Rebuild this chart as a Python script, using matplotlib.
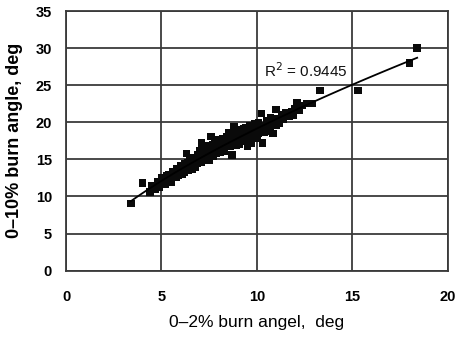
import numpy as np
import matplotlib
matplotlib.use("Agg")
import matplotlib.pyplot as plt

x_vals = [3.4, 4.0, 4.4, 4.5, 4.7, 4.8, 4.9, 5.0, 5.0, 5.1, 5.2, 5.2, 5.3, 5.4, 5.4,
          5.5, 5.5, 5.6, 5.6, 5.7, 5.8, 5.8, 5.9, 5.9, 6.0, 6.0, 6.1, 6.1, 6.2, 6.2,
          6.3, 6.3, 6.4, 6.4, 6.5, 6.5, 6.6, 6.6, 6.7, 6.7, 6.8, 6.8, 6.9, 6.9, 7.0,
          7.0, 7.1, 7.1, 7.2, 7.2, 7.3, 7.3, 7.4, 7.4, 7.5, 7.5, 7.6, 7.6, 7.7, 7.7,
          7.8, 7.8, 7.9, 7.9, 8.0, 8.0, 8.1, 8.1, 8.2, 8.2, 8.3, 8.3, 8.4, 8.4, 8.5,
          8.5, 8.6, 8.6, 8.7, 8.7, 8.8, 8.8, 8.9, 8.9, 9.0, 9.0, 9.1, 9.1, 9.2, 9.2,
          9.3, 9.3, 9.4, 9.4, 9.5, 9.5, 9.6, 9.6, 9.7, 9.7, 9.8, 9.8, 9.9, 9.9, 10.0,
          10.0, 10.1, 10.1, 10.2, 10.25, 10.3, 10.3, 10.4, 10.5, 10.5, 10.6, 10.7, 10.7,
          10.8, 10.85, 10.9, 11.0, 11.0, 11.1, 11.2, 11.3, 11.4, 11.5, 11.6, 11.7, 11.8,
          11.9, 12.0, 12.1, 12.2, 12.4, 12.6, 12.7, 12.9, 13.3, 15.3, 18.0, 18.4,
          5.3, 5.7, 6.1, 6.5, 6.9, 7.3, 7.7, 8.1, 8.5, 8.9, 9.3, 9.7, 10.1]
y_vals = [9.1, 11.8, 10.6, 11.4, 11.0, 12.0, 11.3, 11.8, 12.5, 11.9, 12.3, 11.6, 12.8, 12.1, 13.0,
          12.5, 11.9, 12.7, 13.4, 13.0, 12.6, 13.8, 13.2, 12.8, 13.5, 14.2, 13.0, 13.8, 14.4, 13.3,
          15.8, 13.9, 14.6, 13.5, 14.1, 15.0, 14.6, 13.7, 15.3, 14.2, 14.8, 13.9, 15.5, 14.5, 15.0,
          16.2, 17.2, 14.6, 15.6, 16.5, 15.2, 16.0, 16.8, 15.5, 16.3, 14.9, 18.1, 16.0, 16.7, 15.4,
          17.3, 16.2, 15.8, 17.0, 16.5, 17.6, 16.0, 17.0, 17.8, 16.6, 17.2, 16.1, 18.0, 16.9, 17.5,
          18.6, 16.7, 17.9, 15.6, 18.3, 19.4, 17.4, 18.0, 16.9, 18.6, 17.5, 18.2, 17.0, 19.0, 17.8,
          18.4, 17.4, 19.3, 18.0, 16.7, 18.7, 17.6, 19.6, 18.3, 17.2, 19.0, 18.0, 19.8, 18.6, 17.9,
          19.2, 18.5, 20.0, 19.0, 21.2, 17.2, 19.5, 18.6, 20.2, 19.1, 19.6, 18.8, 20.6,
          19.9, 18.5, 20.3, 21.7, 19.6, 20.5, 19.9, 21.0, 20.4, 21.3, 20.8, 20.75, 21.5,
          21.0, 21.9, 22.6, 21.6, 22.3, 22.5, 22.5, 22.5, 24.3, 24.3, 28.0, 30.0,
          12.4, 13.3, 14.1, 14.8, 15.6, 16.4, 17.0, 17.4, 18.1, 18.8, 19.1, 19.4, 19.9]
x_ticks = [0, 5, 10, 15, 20]
y_ticks = [0, 5, 10, 15, 20, 25, 30, 35]
r2_label = "R$^2$ = 0.9445"

plt.rcParams['font.family'] = ['Liberation Sans', 'DejaVu Sans']

fig = plt.figure(figsize=(4.59, 3.39), dpi=100)
ax = fig.add_axes([0.1438, 0.2015, 0.8316, 0.766])

x = np.array(x_vals)
y = np.array(y_vals)
ax.scatter(x, y, marker='s', s=28, color='#0a0a0a', edgecolors='none', zorder=3)

# power trendline y = a * x^b
bexp, lna = np.polyfit(np.log(x), np.log(y), 1)
xl = np.linspace(x.min(), x.max(), 100)
ax.plot(xl, np.exp(lna) * xl ** bexp, color='black', lw=1.3, zorder=4)

ax.text(10.35, 27.0, r2_label, fontsize=11, va='center', ha='left', color='#111111')

ax.set_xlim(0, 20)
ax.set_ylim(0, 35)
ax.set_xticks(x_ticks)
ax.set_yticks(y_ticks)
ax.grid(True, color='#3a3a3a', lw=1.3)
ax.set_axisbelow(True)
ax.tick_params(axis='y', length=0, labelsize=10.5, pad=10)
ax.tick_params(axis='x', length=0, labelsize=10.5, pad=14)
for lab in ax.get_xticklabels() + ax.get_yticklabels():
    lab.set_fontweight('bold')
for s in ax.spines.values():
    s.set_color('#3a3a3a')
    s.set_linewidth(1.3)

ax.set_xlabel("0\u20132% burn angel,  deg", fontsize=12.5, labelpad=8)
ax.set_ylabel("0\u201310% burn angle, deg", fontsize=13, fontweight='bold', labelpad=9)

fig.savefig("out.png", dpi=100)
